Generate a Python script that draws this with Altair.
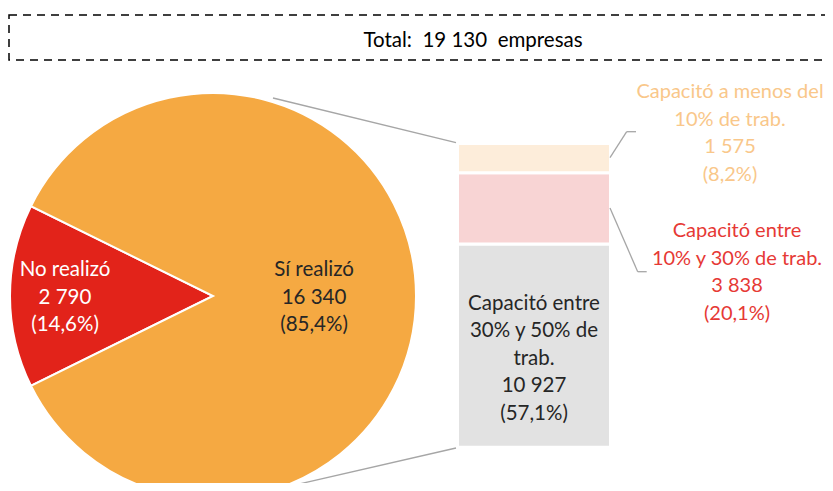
import math
import altair as alt
import pandas as pd

# ---------------- data ----------------
pie_categories = ["No realizó", "Sí realizó"]
pie_values = [2790, 16340]
bar_categories = [
    "Capacitó entre\n30% y 50% de\ntrab.",
    "Capacitó entre\n10% y 30% de trab.",
    "Capacitó a menos del\n10% de trab.",
]
bar_values = [10927, 3838, 1575]
unit_label = "empresas"

total = sum(pie_values)


def fmt(n):
    return f"{n:,}".replace(",", " ")


def pct(v):
    return f"({100 * v / total:.1f}%)".replace(".", ",")


FONT = "Lato"
FS = 20.5
FS_SIDE = 20
LH = 27.5
W, H = 817, 475

pie_colors = ["#E2231A", "#F5A942"]
bar_colors = ["#E2E2E2", "#F8D4D4", "#FDEDDA"]

pie_df = pd.DataFrame({"cat": pie_categories, "value": pie_values, "ord": [0, 1]})
bar_df = pd.DataFrame({"cat": bar_categories, "value": bar_values, "ord": [0, 1, 2]})

start = 1.5 * math.pi - math.pi * pie_values[0] / total

pie = alt.Chart(pie_df).mark_arc(outerRadius=203, stroke="white", strokeWidth=2).encode(
    theta=alt.Theta("value:Q", stack=True,
                    scale=alt.Scale(range=[start, start + 2 * math.pi])),
    order=alt.Order("ord:Q"),
    color=alt.Color("cat:N", scale=alt.Scale(domain=pie_categories, range=pie_colors), legend=None),
    x=alt.value(205),
    y=alt.value(288),
)

bar = alt.Chart(bar_df).transform_stack(
    stack="value", groupby=[], as_=["y0", "y1"], sort=[alt.SortField("ord", order="ascending")]
).mark_rect(stroke="white", strokeWidth=3).encode(
    y=alt.Y("y0:Q", axis=None,
            scale=alt.Scale(domain=[0, pie_values[1]], range=[439.2, 135.5], nice=False, zero=True)),
    y2="y1:Q",
    color=alt.Color("cat:N", scale=alt.Scale(domain=bar_categories, range=bar_colors), legend=None),
    x=alt.value(449.5),
    x2=alt.value(602.5),
)


def rule(x1, y1, x2, y2, color="#A6A6A6", width=1.3):
    return alt.Chart(pd.DataFrame({"a": [0]})).mark_rule(color=color, strokeWidth=width).encode(
        x=alt.value(x1), y=alt.value(y1), x2=alt.value(x2), y2=alt.value(y2)
    )


def label(text, x, yc, color, size=FS):
    n = text.count("\n") + 1
    y_first = yc - (n - 1) * LH / 2
    return alt.Chart(pd.DataFrame({"t": [text]})).mark_text(
        font=FONT, fontSize=size, lineHeight=LH, lineBreak="\n",
        align="center", baseline="middle", color=color,
    ).encode(text="t:N", x=alt.value(x), y=alt.value(y_first))


box = alt.Chart(pd.DataFrame({"a": [0]})).mark_rect(
    fill="white", fillOpacity=0, stroke="black", strokeWidth=1.5, strokeDash=[8, 6]
).encode(x=alt.value(1), x2=alt.value(840), y=alt.value(7), y2=alt.value(52))

title = label(f"Total:\u00a0 {fmt(total)} \u00a0{unit_label}", 465, 32.5, "#000000")

layers = [
    pie,
    bar,
    box,
    title,
    # connectors pie -> bar
    rule(265, 90, 448, 134.7),
    rule(448, 440, 265, 482),
    # leader lines
    rule(602, 149.7, 618.7, 123.7),
    rule(618.7, 123.7, 628, 123.7),
    rule(602, 200, 629.7, 263.7),
    rule(629.7, 263.7, 638.7, 263.7),
    # labels
    label(f"{pie_categories[0]}\n{fmt(pie_values[0])}\n{pct(pie_values[0])}", 57, 289.5, "#FFFFFF"),
    label(f"{pie_categories[1]}\n{fmt(pie_values[1])}\n{pct(pie_values[1])}", 306, 289.5, "#262626"),
    label(f"{bar_categories[0]}\n{fmt(bar_values[0])}\n{pct(bar_values[0])}", 526, 350.7, "#262626"),
    label(f"{bar_categories[1]}\n{fmt(bar_values[1])}\n{pct(bar_values[1])}", 729, 264.3, "#E63935", FS_SIDE),
    label(f"{bar_categories[2]}\n{fmt(bar_values[2])}\n{pct(bar_values[2])}", 722, 125.7, "#F9C78A", FS_SIDE),
]

chart = alt.layer(*layers).resolve_scale(color="independent").properties(
    width=W, height=H, padding=0, autosize=alt.AutoSizeParams(type="none")
).configure_view(stroke=None)

chart.save("out.html", embed_options={"renderer": "svg", "actions": False})
